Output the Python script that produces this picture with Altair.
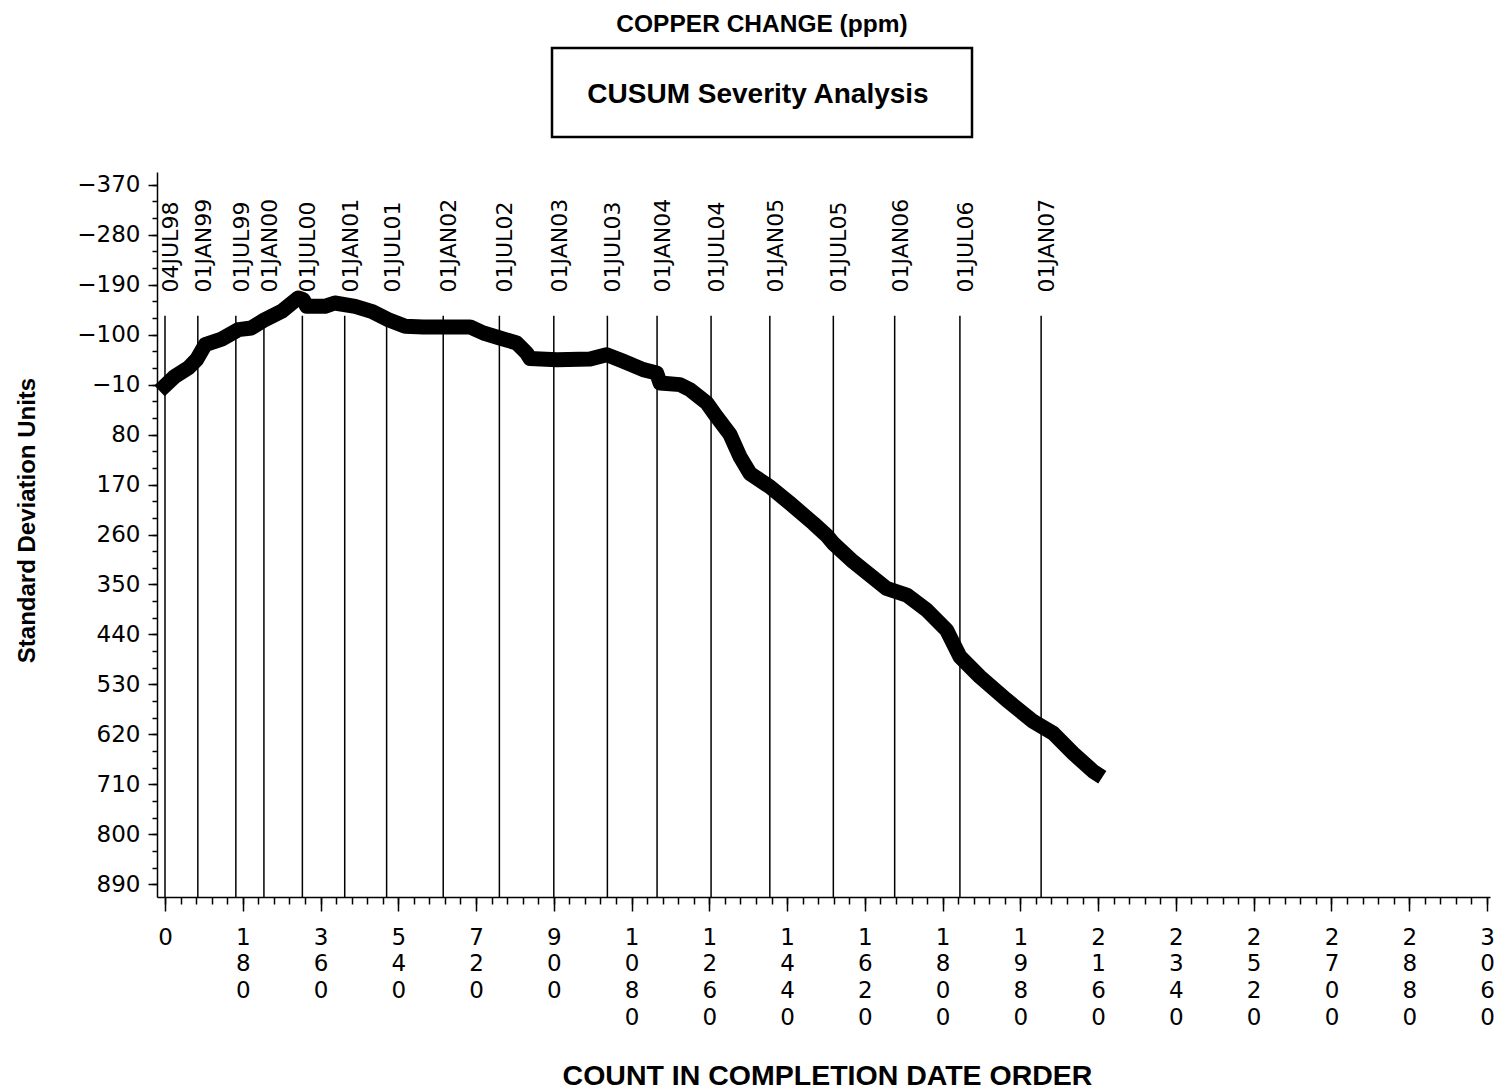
import altair as alt
import pandas as pd

# CUSUM curve (count in completion date order, standard deviation units)
counts = [0, 23, 54, 73, 93, 131, 170, 200, 231, 270, 308, 320, 328, 370, 393, 440, 478, 517, 556,
          598, 706, 737, 775, 814, 837, 845, 907, 984, 1022, 1061, 1107, 1138, 1146, 1192,
          1215, 1254, 1277, 1308, 1331, 1354, 1400, 1447, 1501, 1532, 1547, 1593, 1670, 1717,
          1763, 1809, 1840, 1886, 1948, 2010, 2056, 2102, 2149, 2155]
cusum = [-8, -25, -40, -55, -82, -92, -109, -112, -127, -142, -166, -163, -151, -151, -157, -151, -142, -127, -115,
         -114, -114, -103, -94, -85, -67, -57, -55, -56, -64, -52, -37, -31, -13, -10,
         -1, 23, 48, 80, 120, 150, 174, 204, 240, 262, 276, 309, 357, 369,
         396, 432, 480, 516, 558, 597, 618, 654, 687, 690]

# Date reference lines
ref_labels = ["04JUL98", "01JAN99", "01JUL99", "01JAN00", "01JUL00", "01JAN01", "01JUL01",
              "01JAN02", "01JUL02", "01JAN03", "01JUL03", "01JAN04", "01JUL04", "01JAN05",
              "01JUL05", "01JAN06", "01JUL06", "01JAN07"]
ref_counts = [0, 76, 164, 229, 318, 416, 513, 644, 774, 900, 1024, 1139, 1264, 1400,
              1547, 1689, 1840, 2028]
ref_top = -134
ref_label_pos = -176

x_ticks = [0, 180, 360, 540, 720, 900, 1080, 1260, 1440, 1620, 1800, 1980, 2160, 2340,
           2520, 2700, 2880, 3060]
y_ticks = [-370, -280, -190, -100, -10, 80, 170, 260, 350, 440, 530, 620, 710, 800, 890]
x_minor = [v * 36 for v in range(0, 86)]
y_minor = [-370 + 30 * k for k in range(0, 43)]

x_domain = [-18.5, 3067]
y_domain = [-393, 913]

title_text = "COPPER CHANGE (ppm)"
box_text = "CUSUM Severity Analysis"
x_title = "COUNT IN COMPLETION DATE ORDER"
y_title = "Standard Deviation Units"

df = pd.DataFrame({"count": counts, "cusum": cusum})
refs = pd.DataFrame({"count": ref_counts, "label": ref_labels})

TICK_FONT = "DejaVu Sans"
TITLE_FONT = "Liberation Sans"

xs = alt.Scale(domain=x_domain, nice=False, zero=False)
ys = alt.Scale(domain=y_domain, nice=False, zero=False, reverse=True)

x_axis = alt.Axis(values=x_ticks, format="d", labelExpr="split(datum.label, '')",
                  labelLineHeight=26.7, labelFont=TICK_FONT, labelFontSize=23,
                  labelColor="black", labelPadding=15, labelFlush=False,
                  labelOverlap=False, labelBound=False, labelBaseline="top",
                  tickSize=14, tickWidth=1.5, tickColor="black",
                  domainColor="black", domainWidth=1.5, grid=False,
                  title=x_title, titleFont=TITLE_FONT, titleFontSize=28.5,
                  titleFontWeight="bold", titleColor="black",
                  titleX=670, titleY=178, titleBaseline="middle", titleAlign="center",
                  orient="bottom")
y_axis = alt.Axis(values=y_ticks, format="d", labelFont=TICK_FONT, labelFontSize=23,
                  labelColor="black", labelPadding=8, labelFlush=False,
                  labelOverlap=False, labelBound=False,
                  tickSize=9, tickWidth=1.5, tickColor="black",
                  domainColor="black", domainWidth=1.5, grid=False,
                  title=y_title, titleFont=TITLE_FONT, titleFontSize=24,
                  titleFontWeight="bold", titleColor="black",
                  titleX=-130, titleY=348, titleBaseline="middle", titleAlign="center",
                  titleAngle=270, orient="left")
x_axis_minor = alt.Axis(values=x_minor, labels=False, tickSize=7, tickWidth=1.5,
                        tickColor="black", domain=False, grid=False, title=None,
                        orient="bottom")
y_axis_minor = alt.Axis(values=y_minor, labels=False, tickSize=5, tickWidth=1.5,
                        tickColor="black", domain=False, grid=False, title=None,
                        orient="left")

line = alt.Chart(df).mark_line(color="black", strokeWidth=15, strokeCap="square",
                               strokeJoin="round").encode(
    x=alt.X("count:Q", scale=xs, axis=x_axis),
    y=alt.Y("cusum:Q", scale=ys, axis=y_axis),
    order="count:Q",
)

minor = alt.Chart(df).mark_point(opacity=0).encode(
    x=alt.X("count:Q", scale=xs, axis=x_axis_minor),
    y=alt.Y("cusum:Q", scale=ys, axis=y_axis_minor),
)

rules = alt.Chart(refs).mark_rule(color="black", strokeWidth=1.5).encode(
    x=alt.X("count:Q", scale=xs, axis=None),
    y=alt.datum(ref_top, scale=ys, axis=None),
    y2=alt.datum(y_domain[1]),
)

rule_text = alt.Chart(refs).mark_text(angle=270, align="left", baseline="top", dy=-4,
                                      font=TICK_FONT, fontSize=22, color="black").encode(
    x=alt.X("count:Q", scale=xs, axis=None),
    y=alt.datum(ref_label_pos, scale=ys, axis=None),
    text="label:N",
)

title_df = pd.DataFrame({"t": [title_text]})
box_df = pd.DataFrame({"t": [box_text]})

title_mark = alt.Chart(title_df).mark_text(font=TITLE_FONT, fontSize=24.5, fontWeight="bold",
                                           color="black", baseline="middle", align="center").encode(
    x=alt.value(605), y=alt.value(-147), text="t:N")

box = alt.Chart(box_df).mark_rect(fill="white", stroke="black", strokeWidth=2.5).encode(
    x=alt.value(395), x2=alt.value(815), y=alt.value(-124), y2=alt.value(-35))

box_label = alt.Chart(box_df).mark_text(font=TITLE_FONT, fontSize=28, fontWeight="bold",
                                        color="black", baseline="middle", align="center").encode(
    x=alt.value(601), y=alt.value(-77), text="t:N")

chart = alt.layer(line, minor, rules, rule_text, title_mark, box, box_label).resolve_axis(
    x="independent", y="independent"
).properties(
    width=1333, height=725,
    background="white",
    autosize=alt.AutoSizeParams(type="none"),
    padding={"left": 157, "top": 172, "right": 9, "bottom": 194},
).configure_view(strokeWidth=0)

chart.save("out.html", embed_options={"renderer": "svg", "actions": False})
